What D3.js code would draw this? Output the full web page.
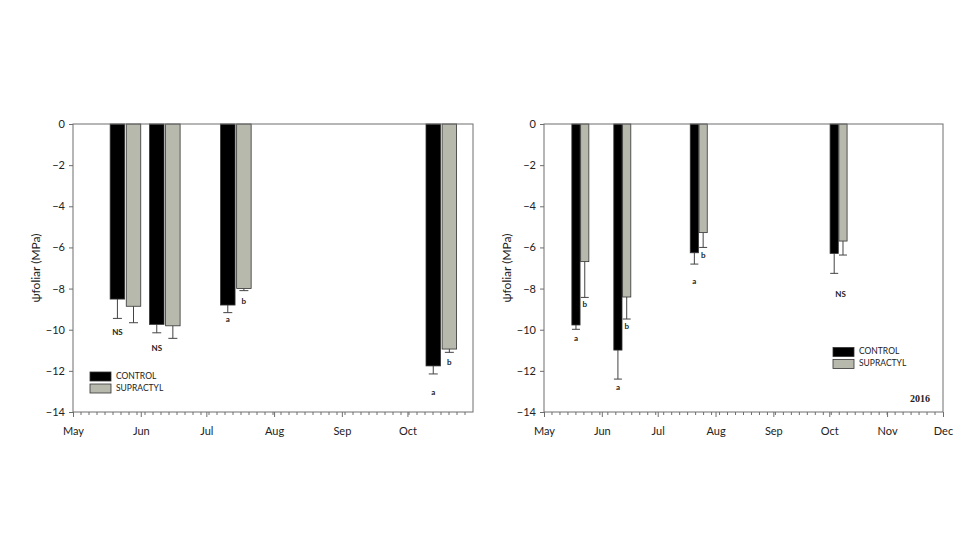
<!DOCTYPE html>
<html><head><meta charset="utf-8">
<script src="https://cdn.jsdelivr.net/npm/d3@7"></script>
<style>body{margin:0;background:#fff}svg{display:block}</style>
</head><body>
<svg id="c" width="980" height="560"></svg>
<script>
// ---------- DATA ----------
const seriesNames = ["CONTROL", "SUPRACTYL"];
const yTicks = [0, -2, -4, -6, -8, -10, -12, -14];
const yLabel = "\u03C8foliar (MPa)";

// Left panel (2015 season)
const datesA = ["2015-05-25", "2015-06-12", "2015-07-14T12:00", "2015-10-16T12:00"];
const controlA = [-8.51, -9.74, -8.80, -11.76];
const controlErrA = [0.94, 0.41, 0.37, 0.39];
const supractylA = [-8.86, -9.81, -8.00, -10.94];
const supractylErrA = [0.80, 0.61, 0.10, 0.16];
const monthLabelsA = ["May", "Jun", "Jul", "Aug", "Sep", "Oct"];
// [pair index, anchor (c=control, s=supractyl), text, MPa position]
const lettersA = [[0, "c", "NS", -10.16], [1, "c", "NS", -10.94], [2, "c", "a", -9.53], [2, "s", "b", -8.64], [3, "s", "b", -11.62], [3, "c", "a", -13.06]];

// Right panel (2016 season)
const datesB = ["2016-05-20T12:00", "2016-06-12", "2016-07-23", "2016-10-06"];
const controlB = [-9.77, -10.99, -6.26, -6.29];
const controlErrB = [0.21, 1.41, 0.55, 0.97];
const supractylB = [-6.69, -8.41, -5.28, -5.69];
const supractylErrB = [1.74, 1.07, 0.72, 0.68];
const monthLabelsB = ["May", "Jun", "Jul", "Aug", "Sep", "Oct", "Nov", "Dec"];
const lettersB = [[0, "s", "b", -8.80], [0, "c", "a", -10.47], [1, "s", "b", -9.88], [1, "c", "a", -12.85], [2, "s", "b", -6.42], [2, "c", "a", -7.67], [3, "m", "NS", -8.31]];
const yearLabelB = "2016";

// ---------- DRAWING ----------
const svg = d3.select("#c");
svg.append("rect").attr("width", 980).attr("height", 560).attr("fill", "#fff");
const parse = d3.isoParse;
const FONT = "Lato, 'Open Sans', sans-serif";
const C_CTRL = "#000000", C_SUP = "#b8b9ad", AXIS = "#6e6e6e", TXT = "#222";

function panel(cfg) {
  const g = svg.append("g");
  const x = d3.scaleTime().domain([parse(cfg.start), parse(cfg.end)]).range([cfg.x0, cfg.x1]);
  const y = d3.scaleLinear().domain([0, -14]).range([cfg.y0, cfg.y1]);
  const dates = cfg.dates.map(parse);

  // bars
  const bw = cfg.bw, gap = cfg.gap;
  const series = [
    {vals: cfg.ctrl, errs: cfg.ctrlErr, fill: C_CTRL, off: d => x(d) - gap / 2 - bw},
    {vals: cfg.sup, errs: cfg.supErr, fill: C_SUP, off: d => x(d) + gap / 2}
  ];
  series.forEach(s => {
    // error bars (downward)
    g.selectAll(null).data(dates).enter().append("line")
      .attr("x1", (d, i) => s.off(d) + bw / 2).attr("x2", (d, i) => s.off(d) + bw / 2)
      .attr("y1", (d, i) => y(s.vals[i])).attr("y2", (d, i) => y(s.vals[i] - s.errs[i]))
      .attr("stroke", "#444").attr("stroke-width", 1);
    g.selectAll(null).data(dates).enter().append("line")
      .attr("x1", (d, i) => s.off(d) + bw / 2 - cfg.cap / 2).attr("x2", (d, i) => s.off(d) + bw / 2 + cfg.cap / 2)
      .attr("y1", (d, i) => y(s.vals[i] - s.errs[i])).attr("y2", (d, i) => y(s.vals[i] - s.errs[i]))
      .attr("stroke", "#444").attr("stroke-width", 1);
    g.selectAll(null).data(dates).enter().append("rect")
      .attr("x", d => s.off(d)).attr("width", bw)
      .attr("y", y(0)).attr("height", (d, i) => y(s.vals[i]) - y(0))
      .attr("fill", s.fill).attr("stroke", "#333").attr("stroke-width", 0.8);
  });

  // letters
  cfg.letters.forEach(([i, a, t, v]) => {
    const d = dates[i];
    const cx = a === "c" ? x(d) - gap / 2 - bw / 2 : a === "s" ? x(d) + gap / 2 + bw / 2 : x(d) + 2;
    g.append("text").attr("x", cx).attr("y", y(v)).attr("text-anchor", "middle")
      .attr("dominant-baseline", "middle").attr("font-family", FONT).attr("font-weight", "bold")
      .attr("font-size", 8).attr("fill", TXT).text(t);
  });

  // frame
  g.append("rect").attr("x", cfg.x0).attr("y", cfg.y0).attr("width", cfg.x1 - cfg.x0).attr("height", cfg.y1 - cfg.y0)
    .attr("fill", "none").attr("stroke", AXIS).attr("stroke-width", 1);

  // y axis
  const ya = g.append("g").attr("transform", `translate(${cfg.x0},0)`)
    .call(d3.axisLeft(y).tickValues(yTicks).tickSize(4).tickPadding(4).tickFormat(d3.format("d")));
  ya.select(".domain").remove();
  ya.selectAll("line").attr("stroke", AXIS);
  ya.selectAll("text").attr("font-family", FONT).attr("font-size", 11).attr("fill", TXT);

  // x axis: month majors
  const months = d3.timeMonth.range(parse(cfg.start), d3.timeDay.offset(parse(cfg.end), 1));
  const xa = g.append("g").attr("transform", `translate(0,${cfg.y1})`)
    .call(d3.axisBottom(x).tickValues(months).tickSize(5).tickPadding(10)
      .tickFormat((d, i) => cfg.monthLabels[i]));
  xa.select(".domain").remove();
  xa.selectAll("line").attr("stroke", AXIS);
  xa.selectAll("text").attr("font-family", FONT).attr("font-size", 11).attr("fill", TXT);
  // minor ticks: 50 equal divisions
  const t0 = +parse(cfg.start), t1 = +parse(cfg.end);
  const minors = d3.range(1, 50).map(k => new Date(t0 + (t1 - t0) * k / 50));
  g.selectAll(null).data(minors).enter().append("line")
    .attr("x1", d => x(d)).attr("x2", d => x(d)).attr("y1", cfg.y1).attr("y2", cfg.y1 + 3)
    .attr("stroke", AXIS).attr("stroke-width", 1);

  // y label
  g.append("text").attr("transform", `translate(${cfg.x0 - 33},${(cfg.y0 + cfg.y1) / 2}) rotate(-90)`)
    .attr("text-anchor", "middle").attr("font-family", FONT).attr("font-size", 12).attr("fill", TXT).text(yLabel);

  // legend
  seriesNames.forEach((n, i) => {
    g.append("rect").attr("x", cfg.lx).attr("y", cfg.ly + i * 12).attr("width", 21).attr("height", 9)
      .attr("fill", i ? C_SUP : C_CTRL).attr("stroke", "#333").attr("stroke-width", 0.8);
    g.append("text").attr("x", cfg.lx + 26).attr("y", cfg.ly + i * 12 + 4.5).attr("dominant-baseline", "middle")
      .attr("font-family", FONT).attr("font-size", 8.5).attr("fill", TXT).text(n);
  });
  return {g, x, y};
}

panel({start: "2015-05-01", end: "2015-10-31", x0: 73, x1: 473, y0: 124, y1: 412,
  dates: datesA, ctrl: controlA, ctrlErr: controlErrA, sup: supractylA, supErr: supractylErrA,
  bw: 14.5, gap: 1.6, cap: 9, monthLabels: monthLabelsA, letters: lettersA, lx: 90, ly: 372});

const pB = panel({start: "2016-05-01", end: "2016-12-01", x0: 544, x1: 943, y0: 124, y1: 412,
  dates: datesB, ctrl: controlB, ctrlErr: controlErrB, sup: supractylB, supErr: supractylErrB,
  bw: 8.2, gap: 0.6, cap: 8, monthLabels: monthLabelsB, letters: lettersB, lx: 833, ly: 347.5});

pB.g.append("text").attr("x", 920).attr("y", 402).attr("text-anchor", "middle")
  .attr("font-family", "'Liberation Serif', 'DejaVu Serif', serif").attr("font-weight", "bold")
  .attr("font-size", 10).attr("fill", TXT).text(yearLabelB);
</script>
</body></html>
